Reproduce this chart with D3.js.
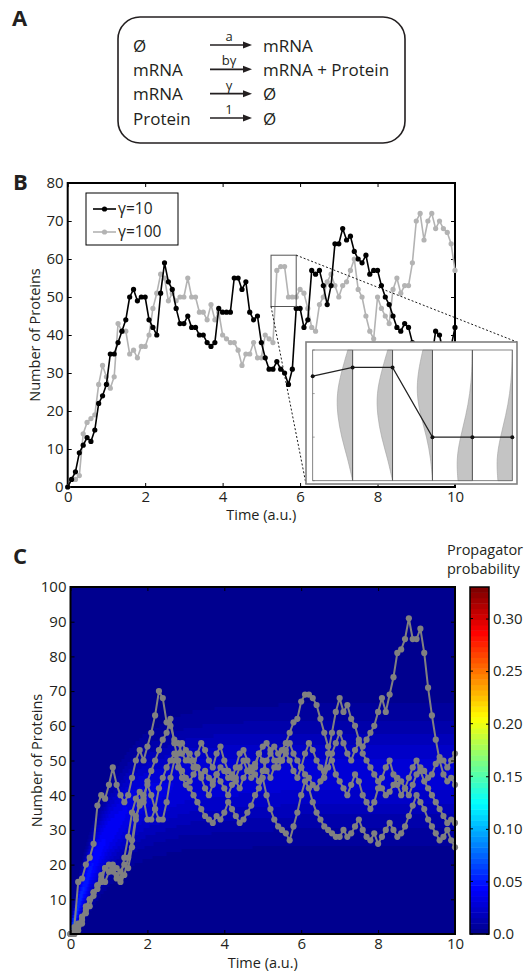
<!DOCTYPE html>
<html>
<head>
<meta charset="utf-8">
<script src="https://cdn.jsdelivr.net/npm/d3@7"></script>
<style>
  body { margin: 0; background: #fff; }
  svg { display: block; font-family: "Open Sans", sans-serif; }
</style>
</head>
<body>
<svg id="fig" width="527" height="976"></svg>
<script>
// ---- data ----
const times = d3.range(0, 101).map(i => i / 10);

// panel B: protein trajectories
const protG10 = [
  0, 2, 4, 9, 11, 13, 12, 15, 22, 24, 27,
  35, 35, 38, 41, 44, 50, 52, 49, 50, 50,
  44, 42, 40, 51, 59, 54, 52, 47, 43, 43,
  45, 42, 42, 40, 40, 38, 37, 38, 47, 46,
  46, 46, 55, 55, 52, 54, 46, 44, 45, 38,
  34, 31, 31, 33, 31, 30, 27, 31, 47, 47,
  42, 44, 57, 56, 57, 53, 48, 53, 64, 64,
  68, 65, 66, 62, 60, 59, 61, 56, 57, 57,
  53, 50, 48, 45, 42, 41, 43, 42, 38, 35,
  33, 30, 32, 34, 41, 40, 35, 33, 37, 42
];
const protG100 = [
  0, 2, 2, 3, 14, 17, 18, 19, 27, 32, 29,
  26, 29, 43, 41, 41, 35, 36, 34, 37, 37,
  40, 47, 51, 56, 55, 49, 51, 49, 50, 50,
  55, 50, 50, 46, 46, 44, 48, 44, 46, 40,
  39, 38, 38, 36, 32, 35, 35, 38, 34, 34,
  40, 39, 38, 57, 58, 58, 50, 50, 50, 52,
  51, 47, 42, 41, 48, 50, 54, 56, 53, 50,
  53, 54, 57, 60, 52, 50, 45, 41, 39, 50,
  47, 45, 43, 52, 55, 51, 53, 53, 59, 70,
  72, 65, 70, 72, 68, 70, 68, 67, 64, 57
];
const legendLabels = ["\u03b3=10", "\u03b3=100"];

// zoom window in panel B (time, protein) and the magnified values
const zoomT = [5.25, 5.9];
const zoomN = [47.5, 61];
const insetVals = [57, 58, 58, 50, 50, 50];
const insetLevels = [45, 47.5, 50, 52.5, 55, 57.5, 60];
const insetDens = [
  [0, 0.3, 0.7, 0.95, 1, 0.7, 0.3],
  [0, 0.3, 0.7, 0.95, 1, 0.7, 0.3],
  [0, 0.1, 0.35, 0.75, 1, 0.9, 0.6],
  [0.9, 1, 0.75, 0.4, 0.15, 0.03, 0],
  [0.9, 1, 0.75, 0.4, 0.15, 0.03, 0]
];

// panel C: four sample trajectories
const trajC = [
  [0, 2, 15, 16, 20, 22, 26, 37, 40, 39, 43,
   48, 43, 40, 38, 40, 45, 50, 53, 50, 54,
   58, 63, 70, 68, 61, 60, 56, 55, 52, 50,
   52, 50, 48, 46, 47, 45, 44, 46, 48, 47,
   45, 46, 44, 42, 45, 47, 48, 46, 44, 47,
   50, 52, 54, 52, 50, 53, 55, 52, 50, 48,
   46, 45, 43, 42, 44, 47, 52, 58, 64, 68,
   64, 66, 62, 60, 56, 52, 50, 48, 46, 44,
   42, 40, 41, 43, 45, 44, 42, 40, 43, 46,
   48, 47, 45, 46, 49, 51, 50, 48, 50, 52],
  [0, 1, 3, 5, 8, 10, 12, 14, 17, 19, 18,
   20, 19, 18, 20, 19, 25, 33, 38, 40, 43,
   40, 36, 33, 33, 38, 45, 50, 52, 55, 53,
   50, 48, 52, 55, 53, 50, 48, 52, 54, 50,
   47, 45, 48, 52, 53, 50, 47, 49, 52, 54,
   55, 53, 50, 48, 50, 52, 50, 47, 45, 48,
   52, 55, 53, 50, 48, 45, 48, 52, 55, 58,
   55, 52, 50, 53, 55, 54, 56, 58, 60, 64,
   68, 64, 69, 74, 81, 82, 85, 91, 85, 85,
   88, 81, 71, 63, 56, 50, 46, 44, 45, 43],
  [0, 0, 2, 4, 6, 8, 11, 14, 16, 15, 18,
   19, 17, 16, 22, 28, 35, 39, 41, 38, 44,
   47, 50, 53, 56, 58, 62, 55, 50, 47, 45,
   44, 46, 48, 45, 42, 40, 43, 46, 44, 42,
   40, 43, 45, 48, 50, 47, 45, 48, 52, 50,
   47, 45, 48, 50, 53, 55, 58, 61, 62, 67,
   69, 69, 68, 66, 62, 58, 54, 50, 46, 44,
   42, 40, 43, 46, 44, 40, 38, 36, 38, 42,
   45, 48, 50, 46, 43, 40, 42, 45, 48, 50,
   47, 44, 42, 40, 38, 36, 34, 32, 33, 32],
  [0, 0, 1, 3, 7, 10, 12, 13, 15, 19, 20,
   18, 16, 15, 17, 22, 27, 34, 37, 39, 33,
   33, 36, 42, 45, 48, 50, 52, 48, 45, 43,
   42, 40, 38, 36, 34, 33, 32, 34, 33, 35,
   38, 36, 34, 32, 33, 35, 37, 40, 42, 45,
   40, 36, 33, 31, 30, 29, 27, 31, 35, 40,
   44, 42, 38, 35, 33, 31, 30, 29, 28, 28,
   30, 28, 29, 31, 33, 30, 28, 27, 29, 26,
   28, 30, 32, 30, 28, 29, 31, 34, 37, 40,
   38, 36, 33, 31, 29, 27, 28, 30, 27, 25]
];

// propagator band: centre, width and peak value over time
const heatTimes = [0, 0.25, 0.5, 0.75, 1, 1.5, 2, 3, 4, 6, 8, 10];
const heatMean  = [0, 10, 18, 24, 29, 36, 40, 44, 45, 46, 46, 46];
const heatSd    = [1.5, 4, 5.5, 6.5, 7.5, 8.5, 9.5, 10.5, 11, 11, 11, 11];
const heatPeak  = [0.07, 0.055, 0.048, 0.044, 0.04, 0.036, 0.033, 0.03, 0.029, 0.028, 0.028, 0.028];

const cbTicks = [0, 0.05, 0.10, 0.15, 0.20, 0.25, 0.30];
const cbMax = 0.33;

// ---- setup ----
const svg = d3.select("#fig");
svg.append("rect").attr("width", 527).attr("height", 976).attr("fill", "#fff");

const panelLabel = (txt, x, y) => svg.append("text")
  .attr("x", x).attr("y", y).attr("font-size", 22).attr("font-weight", 700)
  .attr("fill", "#231f20").text(txt);

// ---- panel A: reaction scheme ----
panelLabel("A", 12, 26);
svg.append("rect")
  .attr("x", 118).attr("y", 17).attr("width", 287).attr("height", 126)
  .attr("rx", 22).attr("ry", 22)
  .attr("fill", "none").attr("stroke", "#231f20").attr("stroke-width", 1.6);

const reactions = [
  { lhs: "\u00d8", rate: "a", rhs: "mRNA" },
  { lhs: "mRNA", rate: "b\u03b3", rhs: "mRNA + Protein" },
  { lhs: "mRNA", rate: "\u03b3", rhs: "\u00d8" },
  { lhs: "Protein", rate: "1", rhs: "\u00d8" }
];
const rowY = d3.scalePoint().domain(d3.range(reactions.length)).range([45, 118]);
const rows = svg.append("g").attr("fill", "#231f20");
reactions.forEach((r, i) => {
  const y = rowY(i);
  rows.append("text").attr("x", 133).attr("y", y + 6.5).attr("font-size", 17).text(r.lhs);
  rows.append("text").attr("x", 263).attr("y", y + 6.5).attr("font-size", 17).text(r.rhs);
  rows.append("text").attr("x", 229).attr("y", y - 4).attr("font-size", 13)
    .attr("text-anchor", "middle").text(r.rate);
  rows.append("line").attr("x1", 210).attr("x2", 245).attr("y1", y).attr("y2", y)
    .attr("stroke", "#231f20").attr("stroke-width", 1.6);
  rows.append("path").attr("d", `M243,${y - 3.5}L252,${y}L243,${y + 3.5}Z`);
});

// ---- panel B ----
panelLabel("B", 13, 190);
const xB = d3.scaleLinear().domain([0, 10]).range([67.7, 455]);
const yB = d3.scaleLinear().domain([0, 80]).range([487, 183]);

function frame(g, x, y, xt, yt) {
  const [x0, x1] = x.range(), [y0, y1] = y.range();
  g.append("g").attr("transform", `translate(0,${y0})`)
    .call(d3.axisBottom(x).tickValues(xt).tickSize(-4).tickPadding(4).tickFormat(d3.format("d")));
  g.append("g").attr("transform", `translate(0,${y1})`)
    .call(d3.axisTop(x).tickValues(xt).tickSize(-4).tickFormat(""));
  g.append("g").attr("transform", `translate(${x0},0)`)
    .call(d3.axisLeft(y).tickValues(yt).tickSize(-4).tickPadding(4).tickFormat(d3.format("d")));
  g.append("g").attr("transform", `translate(${x1},0)`)
    .call(d3.axisRight(y).tickValues(yt).tickSize(-4).tickFormat(""));
  g.selectAll(".domain").remove();
  g.selectAll(".tick line").attr("stroke", "#000").attr("stroke-width", 1);
  g.selectAll(".tick text").attr("font-size", 15).attr("fill", "#231f20")
    .attr("font-family", "Open Sans, sans-serif");
  g.append("rect").attr("x", x0).attr("y", y1).attr("width", x1 - x0).attr("height", y0 - y1)
    .attr("fill", "none").attr("stroke", "#000").attr("stroke-width", 2);
}

const gB = svg.append("g");
frame(gB, xB, yB, [0, 2, 4, 6, 8, 10], d3.range(0, 81, 10));

function series(g, vals, x, y, color, r, lw) {
  const pts = vals.map((v, i) => [times[i], v]);
  g.append("path").datum(pts)
    .attr("d", d3.line().x(d => x(d[0])).y(d => y(d[1])))
    .attr("fill", "none").attr("stroke", color).attr("stroke-width", lw)
    .attr("stroke-linejoin", "round");
  g.append("g").selectAll("circle").data(pts).join("circle")
    .attr("cx", d => x(d[0])).attr("cy", d => y(d[1])).attr("r", r).attr("fill", color);
}
series(gB, protG100, xB, yB, "#b3b3b3", 2.6, 1.6);
series(gB, protG10, xB, yB, "#000", 2.6, 1.6);

// legend
const leg = gB.append("g");
leg.append("rect").attr("x", 86).attr("y", 193).attr("width", 92).attr("height", 52)
  .attr("fill", "#fff").attr("stroke", "#000").attr("stroke-width", 1);
[["#000", 0], ["#b3b3b3", 1]].forEach(([c, i]) => {
  const yy = 209 + i * 23;
  leg.append("line").attr("x1", 93).attr("x2", 116).attr("y1", yy).attr("y2", yy)
    .attr("stroke", c).attr("stroke-width", 1.6);
  leg.append("circle").attr("cx", 104.5).attr("cy", yy).attr("r", 2.6).attr("fill", c);
  leg.append("text").attr("x", 118).attr("y", yy + 5).attr("font-size", 15.5)
    .attr("fill", "#231f20").text(legendLabels[i]);
});

// zoom window + connectors
const zx0 = xB(zoomT[0]), zx1 = xB(zoomT[1]), zy0 = yB(zoomN[1]), zy1 = yB(zoomN[0]);
gB.append("rect").attr("x", zx0).attr("y", zy0).attr("width", zx1 - zx0).attr("height", zy1 - zy0)
  .attr("fill", "none").attr("stroke", "#555").attr("stroke-width", 1);
const inset = { x0: 306, x1: 517, y0: 342, y1: 484 };
gB.append("line").attr("x1", zx1).attr("y1", zy0).attr("x2", inset.x1).attr("y2", inset.y0)
  .attr("stroke", "#000").attr("stroke-width", 0.9).attr("stroke-dasharray", "2,2");
gB.append("line").attr("x1", zx0).attr("y1", zy1).attr("x2", inset.x0).attr("y2", inset.y1)
  .attr("stroke", "#000").attr("stroke-width", 0.9).attr("stroke-dasharray", "2,2");

// inset
const gI = svg.append("g");
gI.append("rect").attr("x", inset.x0).attr("y", inset.y0)
  .attr("width", inset.x1 - inset.x0).attr("height", inset.y1 - inset.y0)
  .attr("fill", "#fff").attr("stroke", "#808080").attr("stroke-width", 1.6);
const xI = d3.scaleLinear().domain([0, insetVals.length - 1]).range([312.7, 512.3]);
const yI = d3.scaleLinear().domain([45, 60]).range([480.7, 350]);
insetDens.forEach((dens, i) => {
  const xr = xI(i + 1);
  gI.append("path").datum(insetLevels.map((l, k) => [l, dens[k]]))
    .attr("d", d3.area().curve(d3.curveBasis)
      .y(d => yI(d[0])).x0(xr).x1(d => xr - d[1] * 16))
    .attr("fill", "#c4c4c4").attr("stroke", "#a0a0a0").attr("stroke-width", 0.6);
});
gI.selectAll("line.v").data(d3.range(1, insetVals.length - 1)).join("line")
  .attr("x1", d => xI(d)).attr("x2", d => xI(d)).attr("y1", 350).attr("y2", 480.7)
  .attr("stroke", "#555").attr("stroke-width", 1);
gI.append("rect").attr("x", xI(0)).attr("y", 350).attr("width", xI(5) - xI(0)).attr("height", 130.7)
  .attr("fill", "none").attr("stroke", "#666").attr("stroke-width", 0.8);
gI.selectAll("line.t").data([45, 50, 55, 60]).join("line")
  .attr("x1", xI(0)).attr("x2", xI(0) + 2).attr("y1", d => yI(d)).attr("y2", d => yI(d))
  .attr("stroke", "#666").attr("stroke-width", 0.6);
gI.append("path").datum(insetVals)
  .attr("d", d3.line().x((d, i) => xI(i)).y(d => yI(d)))
  .attr("fill", "none").attr("stroke", "#222").attr("stroke-width", 1.2);
gI.selectAll("circle").data(insetVals).join("circle")
  .attr("cx", (d, i) => xI(i)).attr("cy", d => yI(d)).attr("r", 2).attr("fill", "#111");

// axis labels B
svg.append("text").attr("transform", `translate(40,${(yB(0) + yB(80)) / 2}) rotate(-90)`)
  .attr("text-anchor", "middle").attr("font-size", 14.5).attr("fill", "#231f20")
  .text("Number of Proteins");
svg.append("text").attr("x", (xB(0) + xB(10)) / 2).attr("y", 520)
  .attr("text-anchor", "middle").attr("font-size", 14.5).attr("fill", "#231f20")
  .text("Time (a.u.)");

// ---- panel C ----
panelLabel("C", 13, 564);
const xC = d3.scaleLinear().domain([0, 10]).range([70.5, 455]);
const yC = d3.scaleLinear().domain([0, 100]).range([934, 587]);

const jet = d3.scaleLinear()
  .domain([0, 0.125, 0.375, 0.625, 0.875, 1].map(f => f * cbMax))
  .range(["#00008f", "#0000ff", "#00ffff", "#ffff00", "#ff0000", "#800000"])
  .clamp(true);
const nColors = 64;
const cmap = d3.range(nColors).map(k => d3.rgb(jet(k / (nColors - 1) * cbMax)));

const mAt = d3.scaleLinear().domain(heatTimes).range(heatMean);
const sAt = d3.scaleLinear().domain(heatTimes).range(heatSd);
const pAt = d3.scaleLinear().domain(heatTimes).range(heatPeak);

const cw = Math.round(xC(10) - xC(0)), ch = Math.round(yC(0) - yC(100));
const canvas = document.createElement("canvas");
canvas.width = cw; canvas.height = ch;
const ctx = canvas.getContext("2d");
const img = ctx.createImageData(cw, ch);
for (let px = 0; px < cw; px++) {
  const t = xC.invert(xC(0) + px + 0.5);
  const m = mAt(t), s = sAt(t), pk = pAt(t);
  for (let py = 0; py < ch; py++) {
    const n = Math.round(yC.invert(yC(100) + py + 0.5));
    const p = pk * Math.exp(-((n - m) ** 2) / (2 * s * s));
    const k = Math.max(0, Math.min(nColors - 1, Math.floor(p / cbMax * nColors)));
    const c = cmap[k], o = (py * cw + px) * 4;
    img.data[o] = c.r; img.data[o + 1] = c.g; img.data[o + 2] = c.b; img.data[o + 3] = 255;
  }
}
ctx.putImageData(img, 0, 0);
const gC = svg.append("g");
gC.append("image").attr("href", canvas.toDataURL())
  .attr("x", xC(0)).attr("y", yC(100)).attr("width", cw).attr("height", ch)
  .attr("preserveAspectRatio", "none");

trajC.forEach(tr => series(gC, tr, xC, yC, "#808080", 3.1, 2));
frame(gC, xC, yC, [0, 2, 4, 6, 8, 10], d3.range(0, 101, 10));

svg.append("text").attr("transform", `translate(42,${(yC(0) + yC(100)) / 2}) rotate(-90)`)
  .attr("text-anchor", "middle").attr("font-size", 14.5).attr("fill", "#231f20")
  .text("Number of Proteins");
svg.append("text").attr("x", (xC(0) + xC(10)) / 2).attr("y", 968)
  .attr("text-anchor", "middle").attr("font-size", 14.5).attr("fill", "#231f20")
  .text("Time (a.u.)");

// colorbar
const yCb = d3.scaleLinear().domain([0, cbMax]).range([934, 587]);
const gCb = svg.append("g");
gCb.selectAll("rect").data(d3.range(nColors)).join("rect")
  .attr("x", 470).attr("width", 19)
  .attr("y", k => yCb((k + 1) / nColors * cbMax))
  .attr("height", k => yCb(k / nColors * cbMax) - yCb((k + 1) / nColors * cbMax) + 0.5)
  .attr("fill", k => cmap[k]);
gCb.append("rect").attr("x", 470).attr("y", 587).attr("width", 19).attr("height", 347)
  .attr("fill", "none").attr("stroke", "#000").attr("stroke-width", 1.5);
const cbAxis = gCb.append("g").attr("transform", "translate(489,0)")
  .call(d3.axisRight(yCb).tickValues(cbTicks).tickSize(-3).tickPadding(4)
    .tickFormat(d => d === 0 ? "0.0" : d3.format(".2f")(d)));
cbAxis.select(".domain").remove();
cbAxis.selectAll(".tick line").attr("stroke", "#000");
cbAxis.selectAll(".tick text").attr("font-size", 15).attr("fill", "#231f20")
  .attr("font-family", "Open Sans, sans-serif");
gCb.append("g").selectAll("line").data(cbTicks).join("line")
  .attr("x1", 470).attr("x2", 473).attr("y1", d => yCb(d)).attr("y2", d => yCb(d))
  .attr("stroke", "#000");
svg.append("text").attr("x", 447).attr("y", 555).attr("font-size", 14.5).attr("fill", "#231f20")
  .text("Propagator");
svg.append("text").attr("x", 447).attr("y", 574).attr("font-size", 14.5).attr("fill", "#231f20")
  .text("probability");
</script>
</body>
</html>
